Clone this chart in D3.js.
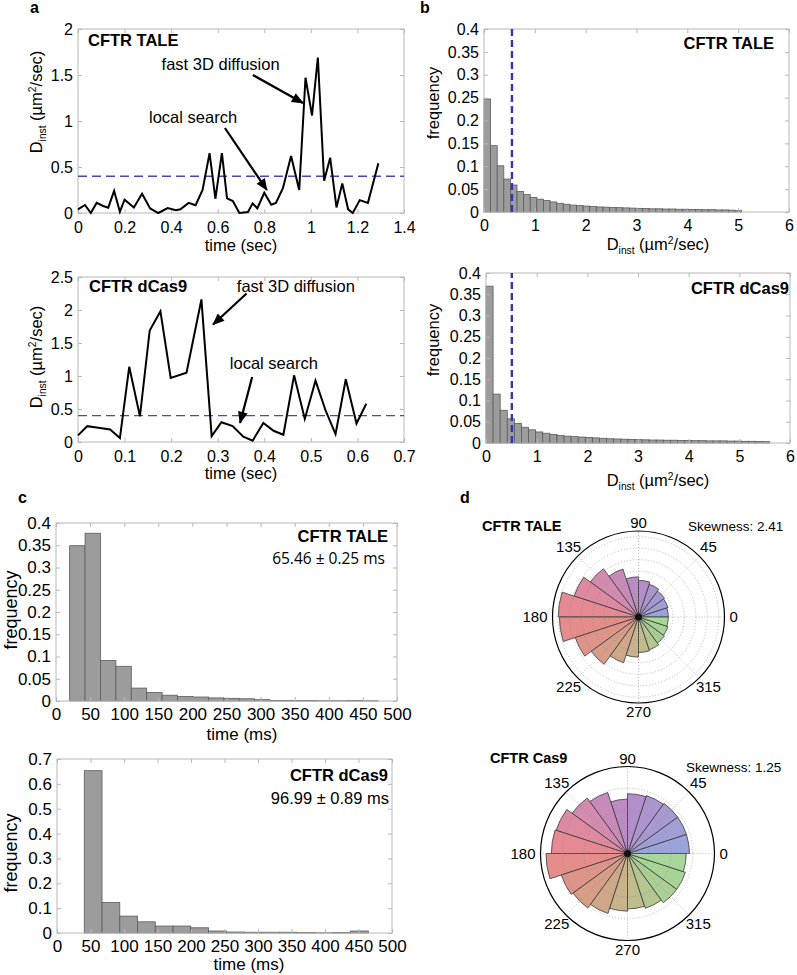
<!DOCTYPE html>
<html><head><meta charset="utf-8">
<script src="https://cdn.jsdelivr.net/npm/d3@7"></script>
<style>body{margin:0;background:#fff} svg text{font-family:"Liberation Sans",Arial,Helvetica,sans-serif;fill:#000}</style>
</head><body><svg id="fig" width="797" height="975"></svg>
<script>
// ---------------- DATA ----------------
// panel a (top) : CFTR TALE trajectory
const aTaleTime = [0,0.03,0.055,0.08,0.108,0.13,0.155,0.18,0.2,0.24,0.275,0.31,0.345,0.385,0.42,0.44,0.475,0.505,0.535,0.565,0.59,0.618,0.64,0.665,0.693,0.73,0.75,0.77,0.8,0.83,0.85,0.88,0.915,0.95,0.977,1.005,1.03,1.057,1.083,1.11,1.135,1.16,1.18,1.21,1.245,1.29];
const aTaleD    = [0.04,0.087,0,0.11,0.076,0.058,0.24,0.014,0.145,0.06,0.21,0.05,0,0.054,0.03,0.04,0.11,0.084,0.25,0.65,0.155,0.65,0.16,0.13,0,0.01,0.105,0.05,0.22,0.09,0.11,0.27,0.62,0.25,1.47,1.06,1.69,0.35,0.6,0.06,0.32,0.04,0,0.14,0.11,0.54];
// panel a (bottom) : CFTR dCas9 trajectory
const aCas9Time = [0,0.02,0.04,0.069,0.09,0.11,0.133,0.154,0.177,0.199,0.233,0.265,0.287,0.308,0.332,0.355,0.375,0.398,0.42,0.441,0.464,0.487,0.51,0.532,0.553,0.575,0.598,0.619];
const aCas9D    = [0.1,0.24,0.22,0.19,0.06,1.14,0.39,1.69,1.98,0.97,1.05,2.16,0.09,0.3,0.24,0.08,0.02,0.29,0.17,0.11,1.01,0.35,0.93,0.47,0.12,0.95,0.28,0.58];
const aThreshold = 0.4;
const aTaleXTicks = [0,0.2,0.4,0.6,0.8,1,1.2,1.4];
const aTaleYTicks = [0,0.5,1,1.5,2];
const aCas9XTicks = [0,0.1,0.2,0.3,0.4,0.5,0.6,0.7];
const aCas9YTicks = [0,0.5,1,1.5,2,2.5];

// panel b : D_inst histograms
const bTaleBinWidth = 0.13;
const bTaleFreq = [0.247,0.145,0.101,0.072,0.059,0.045,0.038,0.032,0.028,0.025,0.022,0.019,0.017,0.015,0.014,0.013,0.012,0.011,0.0105,0.010,0.0095,0.009,0.0085,0.008,0.0075,0.007,0.007,0.0065,0.0065,0.006,0.006,0.0055,0.0055,0.005,0.005,0.0045,0.0045,0.004,0.003];
const bTaleCutoff = 0.55;
const bCas9BinWidth = 0.14;
const bCas9Freq = [0.369,0.115,0.077,0.057,0.046,0.037,0.031,0.026,0.023,0.020,0.018,0.016,0.015,0.014,0.013,0.012,0.011,0.010,0.0095,0.009,0.0085,0.008,0.0075,0.007,0.007,0.0065,0.0065,0.006,0.006,0.0055,0.0055,0.005,0.005,0.005,0.0045,0.0045,0.004,0.004,0.0035,0.003];
const bCas9Cutoff = 0.51;
const bXTicks = [0,1,2,3,4,5,6];
const bYTicks = [0,0.05,0.1,0.15,0.2,0.25,0.3,0.35,0.4];

// panel c : dwell time histograms
const cTaleStart = 20, cTaleBinWidth = 22.6;
const cTaleFreq = [0.349,0.377,0.091,0.078,0.029,0.019,0.013,0.010,0.009,0.007,0.006,0.005,0.003,0.001,0.001,0.001,0.0007,0.0007,0.0012,0.0006];
const cCas9Start = 40.7, cCas9BinWidth = 26.5;
const cCas9Freq = [0.653,0.123,0.068,0.045,0.028,0.028,0.021,0.008,0.004,0.003,0.003,0.003,0.002,0.001,0.002,0.008];
const cXTicks = [0,50,100,150,200,250,300,350,400,450,500];
const cTaleYTicks = [0,0.05,0.1,0.15,0.2,0.25,0.3,0.35,0.4];
const cCas9YTicks = [0,0.1,0.2,0.3,0.4,0.5,0.6,0.7];
const cTaleMean = "65.46 ± 0.25 ms";
const cCas9Mean = "96.99 ± 0.89 ms";

// panel d : angular distributions (20 bins of 18°, counter-clockwise from 0°)
const dBinDeg = 18;
const dTaleRose = [0.026,0.027,0.028,0.030,0.032,0.035,0.044,0.052,0.059,0.070,0.069,0.058,0.051,0.042,0.035,0.031,0.030,0.028,0.027,0.026];
const dCas9Rose = [0.057,0.057,0.057,0.056,0.055,0.050,0.059,0.063,0.069,0.070,0.075,0.064,0.062,0.058,0.053,0.051,0.053,0.056,0.056,0.054];
const dAngleLabels = [0,45,90,135,180,225,270,315];
const dTaleSkew = "Skewness: 2.41";
const dCas9Skew = "Skewness: 1.25";

// ---------------- DRAWING ----------------
const svg = d3.select("#fig");
const defs = svg.append("defs");
defs.append("marker").attr("id","arr").attr("viewBox","0 0 12 10").attr("refX",11).attr("refY",5)
  .attr("markerWidth",13).attr("markerHeight",10).attr("markerUnits","userSpaceOnUse").attr("orient","auto")
  .append("path").attr("d","M0,0 L12,5 L0,10 z").attr("fill","#000");

const fmt = d3.format("~g");
const BOX = "#b8b8b8";

function boxAxes(g, x, y, xt, yt, fs, padX, padY){
  const [x0,x1] = x.range(), [y0,y1] = y.range(); // y0 bottom, y1 top
  g.append("rect").attr("x",x0).attr("y",y1).attr("width",x1-x0).attr("height",y0-y1)
    .attr("fill","none").attr("stroke",BOX).attr("stroke-width",1);
  const mk = (axis, tr, labels) => {
    const a = g.append("g").attr("transform",tr).call(axis);
    a.select(".domain").remove();
    a.selectAll(".tick line").attr("stroke",BOX);
    a.selectAll(".tick text").attr("font-size",fs).attr("font-family","Liberation Sans, Arial, sans-serif").attr("fill","#000");
    if(!labels) a.selectAll(".tick text").remove();
    a.attr("font-size",null).attr("font-family",null);
  };
  mk(d3.axisBottom(x).tickValues(xt).tickFormat(fmt).tickSizeInner(-4).tickSizeOuter(0).tickPadding(padX), `translate(0,${y0})`, true);
  mk(d3.axisTop(x).tickValues(xt).tickSizeInner(-4).tickSizeOuter(0), `translate(0,${y1})`, false);
  mk(d3.axisLeft(y).tickValues(yt).tickFormat(fmt).tickSizeInner(-4).tickSizeOuter(0).tickPadding(padY), `translate(${x0},0)`, true);
  mk(d3.axisRight(y).tickValues(yt).tickSizeInner(-4).tickSizeOuter(0), `translate(${x1},0)`, false);
}

function dinst(t){
  t.append("tspan").text("D");
  t.append("tspan").attr("font-size","0.62em").attr("dy",4).text("inst");
  t.append("tspan").attr("dy",-4).text(" (µm");
  t.append("tspan").attr("font-size","0.62em").attr("dy",-6).text("2");
  t.append("tspan").attr("dy",6).text("/sec)");
}

function text(x,y,s,opt={}){
  const t = svg.append("text").attr("x",x).attr("y",y).attr("font-size",opt.fs||16)
    .attr("text-anchor",opt.anchor||"start").attr("font-weight",opt.bold?"bold":"normal").text(s);
  if(opt.family) t.style("font-family",opt.family);
  return t;
}
function ylab(x,y,fs,content){
  const t = svg.append("text").attr("transform",`translate(${x},${y}) rotate(-90)`)
    .attr("text-anchor","middle").attr("font-size",fs);
  if(typeof content==="string") t.text(content); else content(t);
  return t;
}

// panel letters
text(30,13,"a",{bold:true,fs:16});
text(420,13,"b",{bold:true,fs:16});
text(18,503,"c",{bold:true,fs:16});
text(460,503,"d",{bold:true,fs:16});

// ----- panel a -----
function trajPanel(times, vals, xt, yt, xr, yr, title, ann){
  const x = d3.scaleLinear().domain([xt[0], xt[xt.length-1]]).range(xr);
  const y = d3.scaleLinear().domain([yt[0], yt[yt.length-1]]).range(yr);
  const g = svg.append("g");
  boxAxes(g, x, y, xt, yt, 16, 9, 5);
  g.append("line").attr("x1",xr[0]).attr("x2",xr[1]).attr("y1",y(aThreshold)).attr("y2",y(aThreshold))
    .attr("stroke","#4848b8").attr("stroke-width",1.4).attr("stroke-dasharray","9,5");
  g.append("path").datum(d3.zip(times, vals)).attr("fill","none").attr("stroke","#000").attr("stroke-width",2)
    .attr("stroke-linejoin","miter").attr("d", d3.line().x(d=>x(d[0])).y(d=>y(d[1])));
  text(title.x, title.y, title.s, {bold:true, fs:16.5});
  ann.forEach(a=>{
    text(x(a.tx), y(a.ty), a.s, {fs:16.5});
    g.append("line").attr("x1",x(a.ax0)).attr("y1",y(a.ay0)).attr("x2",x(a.ax1)).attr("y2",y(a.ay1))
      .attr("stroke","#000").attr("stroke-width",2.2).attr("marker-end","url(#arr)");
  });
  return {x,y};
}
trajPanel(aTaleTime, aTaleD, aTaleXTicks, aTaleYTicks, [78,404], [213,29],
  {x:88,y:46,s:"CFTR TALE"},
  [{s:"fast 3D diffusion", tx:0.359, ty:1.554, ax0:0.751, ay0:1.50, ax1:0.966, ay1:1.196},
   {s:"local search", tx:0.305, ty:0.98, ax0:0.631, ay0:0.924, ax1:0.811, ay1:0.25}]);
trajPanel(aCas9Time, aCas9D, aCas9XTicks, aCas9YTicks, [78,404], [442,277],
  {x:89,y:292,s:"CFTR dCas9"},
  [{s:"fast 3D diffusion", tx:0.341, ty:2.28, ax0:0.362, ay0:2.25, ax1:0.29, ay1:1.78},
   {s:"local search", tx:0.326, ty:1.11, ax0:0.374, ay0:0.985, ax1:0.348, ay1:0.29}]);
text(241,251,"time (sec)",{anchor:"middle",fs:16.5});
text(241,479,"time (sec)",{anchor:"middle",fs:16.5});
ylab(42,102,16.5,dinst);
ylab(42,357,16.5,dinst);

// ----- panel b -----
function histPanel(freq, start, w, xt, yt, xr, yr, fs, padX){
  const x = d3.scaleLinear().domain([xt[0], xt[xt.length-1]]).range(xr);
  const y = d3.scaleLinear().domain([yt[0], yt[yt.length-1]]).range(yr);
  const g = svg.append("g");
  g.selectAll("rect.bar").data(freq).join("rect").attr("class","bar")
    .attr("x",(d,i)=>x(start+i*w)).attr("width",(d,i)=>x(start+(i+1)*w)-x(start+i*w))
    .attr("y",d=>y(d)).attr("height",d=>y(0)-y(d))
    .attr("fill","#9c9c9c").attr("stroke","#5c5c5c").attr("stroke-width",0.8);
  boxAxes(g, x, y, xt, yt, fs, padX, 5);
  return {g,x,y};
}
const bT = histPanel(bTaleFreq, 0, bTaleBinWidth, bXTicks, bYTicks, [484,789], [212,29], 16, 8);
bT.g.append("line").attr("x1",bT.x(bTaleCutoff)).attr("x2",bT.x(bTaleCutoff)).attr("y1",bT.y(0)).attr("y2",bT.y(0.4))
  .attr("stroke","#3636aa").attr("stroke-width",2.4).attr("stroke-dasharray","7,4");
const bC = histPanel(bCas9Freq, 0, bCas9BinWidth, bXTicks, bYTicks, [486,790], [443,273], 16, 8);
bC.g.append("line").attr("x1",bC.x(bCas9Cutoff)).attr("x2",bC.x(bCas9Cutoff)).attr("y1",bC.y(0)).attr("y2",bC.y(0.4))
  .attr("stroke","#3636aa").attr("stroke-width",2.4).attr("stroke-dasharray","7,4");
text(774,49,"CFTR TALE",{anchor:"end",bold:true,fs:16.5});
text(789,294,"CFTR dCas9",{anchor:"end",bold:true,fs:16.5});
dinst(text(658,250,"",{anchor:"middle",fs:16.5}));
dinst(text(658,486,"",{anchor:"middle",fs:16.5}));
ylab(439,103,16.5,"frequency");
ylab(439,340,16.5,"frequency");

// ----- panel c -----
histPanel(cTaleFreq, cTaleStart, cTaleBinWidth, cXTicks, cTaleYTicks, [56,397], [701,523], 17, 7);
histPanel(cCas9Freq, cCas9Start, cCas9BinWidth, cXTicks, cCas9YTicks, [57,392], [933,759], 17, 7);
text(388,542,"CFTR TALE",{anchor:"end",bold:true,fs:16.5});
text(385,564,cTaleMean,{anchor:"end",fs:15.5,family:"'Open Sans', sans-serif"});
text(388,781,"CFTR dCas9",{anchor:"end",bold:true,fs:16.5});
text(389,804,cCas9Mean,{anchor:"end",fs:16.5});
text(242,740,"time (ms)",{anchor:"middle",fs:17});
text(249,970,"time (ms)",{anchor:"middle",fs:17});
ylab(17,610,18,"frequency");
ylab(17,853,18,"frequency");

// ----- panel d -----
// colour wheel (style): angle in degrees -> wedge fill
const wheel = d3.scaleLinear()
  .domain([0,90,135,180,225,270,315,360])
  .range(["#97a5dc","#b48cc9","#d58aaf","#e9898b","#d69d87","#c4b88c","#a9cf95","#a6da9a"])
  .interpolate(d3.interpolateLab);
function rosePanel(vals, cx, cy, R, rmax, ringStep){
  const g = svg.append("g").attr("transform",`translate(${cx},${cy})`);
  const r = d3.scaleLinear().domain([0,rmax]).range([0,R]);
  const rad = Math.PI/180;
  const arc = d3.arc().innerRadius(0);
  g.selectAll("path.w").data(vals).join("path").attr("class","w")
    .attr("d",(v,i)=>arc({outerRadius:r(v), startAngle:Math.PI/2-(i+1)*dBinDeg*rad, endAngle:Math.PI/2-i*dBinDeg*rad}))
    .attr("fill",(v,i)=>wheel((i+0.5)*dBinDeg))
    .attr("stroke","#3a3a3a").attr("stroke-width",0.8).attr("stroke-linejoin","round");
  d3.range(ringStep, rmax-1e-9, ringStep).forEach(v=>{
    g.append("circle").attr("r",r(v)).attr("fill","none").attr("stroke","#808080").attr("stroke-opacity",0.7).attr("stroke-width",0.8).attr("stroke-dasharray","1,2");
  });
  dAngleLabels.forEach(a=>{
    g.append("line").attr("x1",0).attr("y1",0).attr("x2",R*Math.cos(a*rad)).attr("y2",-R*Math.sin(a*rad))
      .attr("stroke","#808080").attr("stroke-opacity",0.7).attr("stroke-width",0.8).attr("stroke-dasharray","1,2");
  });
  g.append("circle").attr("r",R).attr("fill","none").attr("stroke","#000").attr("stroke-width",1.2);
  g.append("circle").attr("r",3.5).attr("fill","#111");
  dAngleLabels.forEach(a=>{
    const c = Math.cos(a*rad), s = Math.sin(a*rad);
    const t = g.append("text").attr("font-size",15).text(a);
    if(a===0) t.attr("x",R+5).attr("y",0).attr("dy","0.35em").attr("text-anchor","start");
    else if(a===180) t.attr("x",-R-5).attr("y",0).attr("dy","0.35em").attr("text-anchor","end");
    else if(a===90) t.attr("x",0).attr("y",-R-3).attr("text-anchor","middle");
    else if(a===270) t.attr("x",0).attr("y",R+3).attr("dy","0.75em").attr("text-anchor","middle");
    else t.attr("x",R*1.15*c).attr("y",-R*1.15*s).attr("dy","0.35em").attr("text-anchor","middle");
  });
}
rosePanel(dTaleRose, 638.5, 617, 86, 0.075, 0.01);
rosePanel(dCas9Rose, 627.5, 853.5, 87, 0.08, 0.02);
text(482,531,"CFTR TALE",{bold:true,fs:14.5});
text(688,531,dTaleSkew,{fs:13.5});
text(490,763,"CFTR Cas9",{bold:true,fs:14.5});
text(686,772,dCas9Skew,{fs:13.5});
</script></body></html>
